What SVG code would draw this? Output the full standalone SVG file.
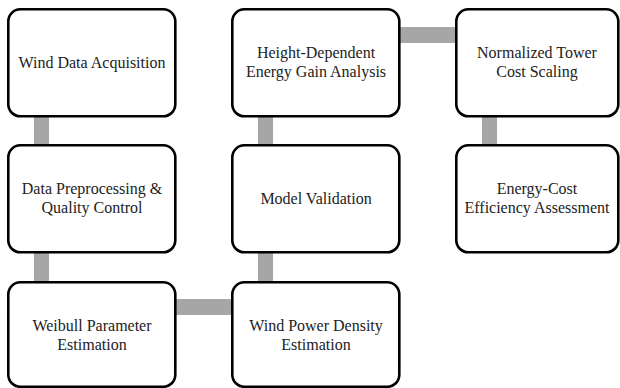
<svg xmlns="http://www.w3.org/2000/svg" width="620" height="388" viewBox="0 0 620 388">
<style>
.box{fill:#fff;stroke:#000;stroke-width:2.6}
.lbl{font-family:'Liberation Serif','DejaVu Serif',serif;font-size:16px;fill:#222;text-anchor:middle}
.con{fill:#a6a6a6}
</style>
<rect width="620" height="388" fill="#fff"/>
<g id="connectors">
<rect class="con" x="34" y="115" width="15" height="31"/>
<rect class="con" x="34" y="251" width="15" height="32"/>
<rect class="con" x="258" y="115" width="15" height="31"/>
<rect class="con" x="258" y="251" width="15" height="32"/>
<rect class="con" x="482" y="115" width="15" height="31"/>
<rect class="con" x="174" y="299" width="59" height="16"/>
<rect class="con" x="398" y="27" width="59" height="16"/>
</g>
<g id="n1"><rect class="box" x="8.3" y="9.3" width="167" height="107" rx="12"/>
<text class="lbl" font-family="Liberation Serif" x="92" y="68">Wind Data Acquisition</text></g>
<g id="n2"><rect class="box" x="8.3" y="145.3" width="167" height="107" rx="12"/>
<text class="lbl" x="92" y="194">Data Preprocessing &amp;</text><text class="lbl" x="92" y="213">Quality Control</text></g>
<g id="n3"><rect class="box" x="8.3" y="282.3" width="167" height="104.5" rx="12"/>
<text class="lbl" x="92" y="331">Weibull Parameter</text><text class="lbl" x="92" y="350">Estimation</text></g>
<g id="n4"><rect class="box" x="232.3" y="282.3" width="167" height="104.5" rx="12"/>
<text class="lbl" x="316" y="331">Wind Power Density</text><text class="lbl" x="316" y="350">Estimation</text></g>
<g id="n5"><rect class="box" x="232.3" y="145.3" width="167" height="107" rx="12"/>
<text class="lbl" x="316" y="204">Model Validation</text></g>
<g id="n6"><rect class="box" x="232.3" y="9.3" width="167" height="107" rx="12"/>
<text class="lbl" x="316" y="58">Height-Dependent</text><text class="lbl" x="316" y="77">Energy Gain Analysis</text></g>
<g id="n7"><rect class="box" x="456.3" y="9.3" width="162" height="107" rx="12"/>
<text class="lbl" x="537" y="58">Normalized Tower</text><text class="lbl" x="537" y="77">Cost Scaling</text></g>
<g id="n8"><rect class="box" x="456.3" y="145.3" width="162" height="107" rx="12"/>
<text class="lbl" x="537" y="194">Energy-Cost</text><text class="lbl" x="537" y="213">Efficiency Assessment</text></g>
</svg>
